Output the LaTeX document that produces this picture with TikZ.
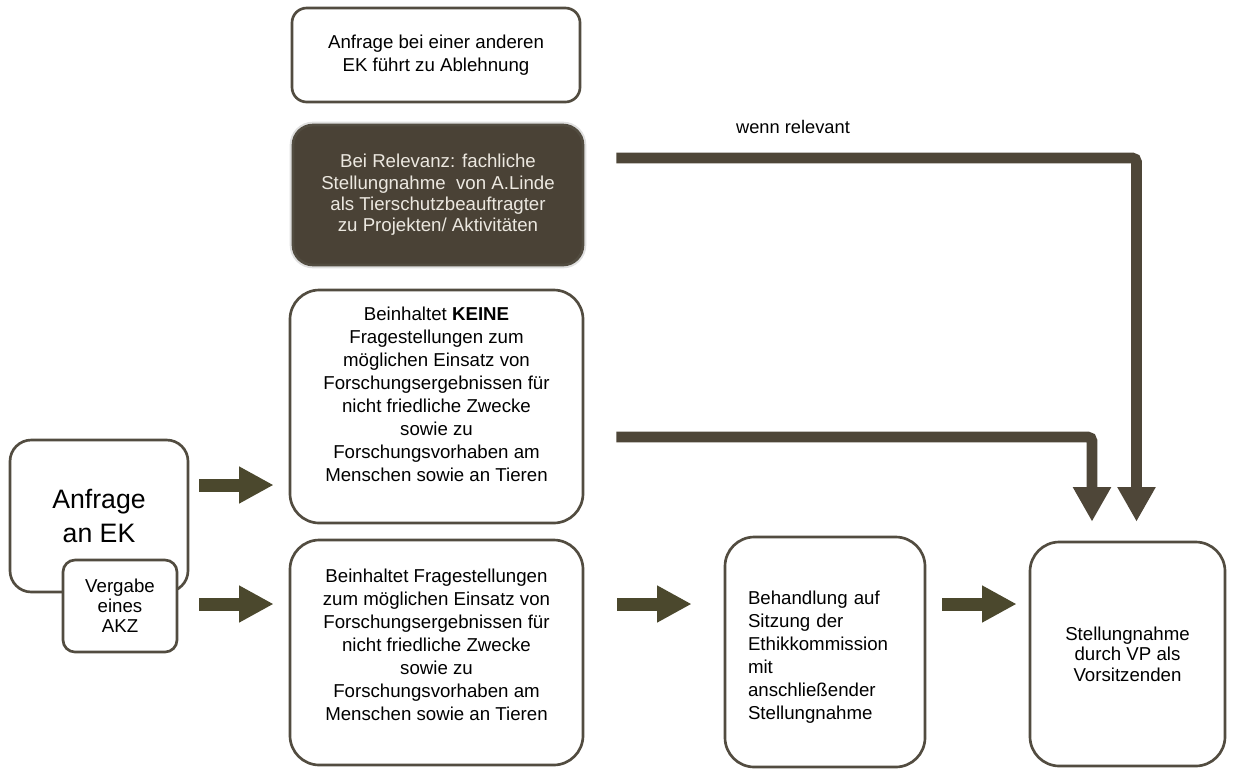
\documentclass[tikz,border=0pt]{standalone}
\usepackage{fontspec}
\setmainfont{Liberation Sans}
\usetikzlibrary{arrows.meta,calc}
\definecolor{arrowc}{RGB}{75,72,45}
\definecolor{elbowc}{RGB}{78,70,56}
\definecolor{boxline}{RGB}{82,76,64}
\definecolor{darkfill}{RGB}{74,66,54}
\definecolor{lighttext}{RGB}{236,232,224}
\begin{document}
\begin{tikzpicture}[x=0.75pt,y=-0.75pt,
  box/.style={draw=boxline, line width=2pt, fill=white, rounded corners=#1, inner sep=0pt, align=center, font=\fontsize{14}{17.25}\selectfont},
  box/.default=22pt,
  blk/.style={draw=arrowc, line width=9.75pt, -{Triangle[length=26pt,width=26pt]}},
  elb/.style={draw=elbowc, line width=8pt, -{Triangle[length=26pt,width=27pt]}, rounded corners=3pt}
]
\useasboundingbox (0,0) rectangle (1234,769);

\node[box=11pt, minimum width=216pt, minimum height=70.5pt] (A) at (436,55)
  {Anfrage bei einer anderen\\EK führt zu Ablehnung};

\node[box=15pt, fill=darkfill, text=lighttext, minimum width=217.5pt, minimum height=105pt,
      font=\fontsize{14}{16}\selectfont, preaction={draw=black!12, line width=5pt}] (B) at (438,195)
  {Bei Relevanz: fachliche\\Stellungnahme\ \ von A.Linde\\als Tierschutzbeauftragter\\zu Projekten/ Aktivitäten};

\node[box, minimum width=219.75pt, minimum height=174.75pt, text depth=19pt] (C) at (436.5,406.5)
  {Beinhaltet \textbf{KEINE}\\Fragestellungen zum\\möglichen Einsatz von\\Forschungsergebnissen für\\nicht friedliche Zwecke\\sowie zu\\Forschungsvorhaben am\\Menschen sowie an Tieren};

\node[box, minimum width=219.75pt, minimum height=168.75pt, text depth=11pt] (D) at (436.5,652.5)
  {Beinhaltet Fragestellungen\\zum möglichen Einsatz von\\Forschungsergebnissen für\\nicht friedliche Zwecke\\sowie zu\\Forschungsvorhaben am\\Menschen sowie an Tieren};

\node[box=16pt, minimum width=133.5pt, minimum height=114pt, font=\fontsize{20}{26}\selectfont] (E) at (99,516)
  {Anfrage\\an EK};

\node[box=9pt, minimum width=85.5pt, minimum height=69pt, font=\fontsize{14}{15}\selectfont] (F) at (120,606)
  {Vergabe\\eines\\AKZ};

\node[box, minimum width=150pt, minimum height=172.5pt, align=left, text width=115.5pt, text height=18pt] (G) at (825,652)
  {Behandlung auf\\Sitzung der\\Ethikkommission\\mit\\anschließender\\Stellungnahme};

\node[box, minimum width=146.25pt, minimum height=168pt, font=\fontsize{14}{15.5}\selectfont] (H) at (1127.5,654)
  {Stellungnahme\\durch VP als\\Vorsitzenden};

\node[font=\fontsize{13.7}{16}\selectfont, inner sep=0pt] (rel) at (793,127) {wenn relevant};

\draw[elb] ($(B.east)+(32,-37)$) -| ($(H.north)+(9,-19)$);
\draw[elb] ($(C.east)+(32,30.5)$) -| ($(H.north)+(-35.5,-19)$);

\draw[blk] ($(E.east)+(10,-31)$) -- ($(C.west)+(-15,78.5)$);
\draw[blk] ($(E.east)+(10,88)$) -- ($(D.west)+(-15,-48.5)$);
\draw[blk] ($(D.east)+(33,-48.5)$) -- ($(G.west)+(-32,-48)$);
\draw[blk] ($(G.east)+(16,-48)$) -- ($(H.west)+(-12,-50)$);
\end{tikzpicture}
\end{document}
